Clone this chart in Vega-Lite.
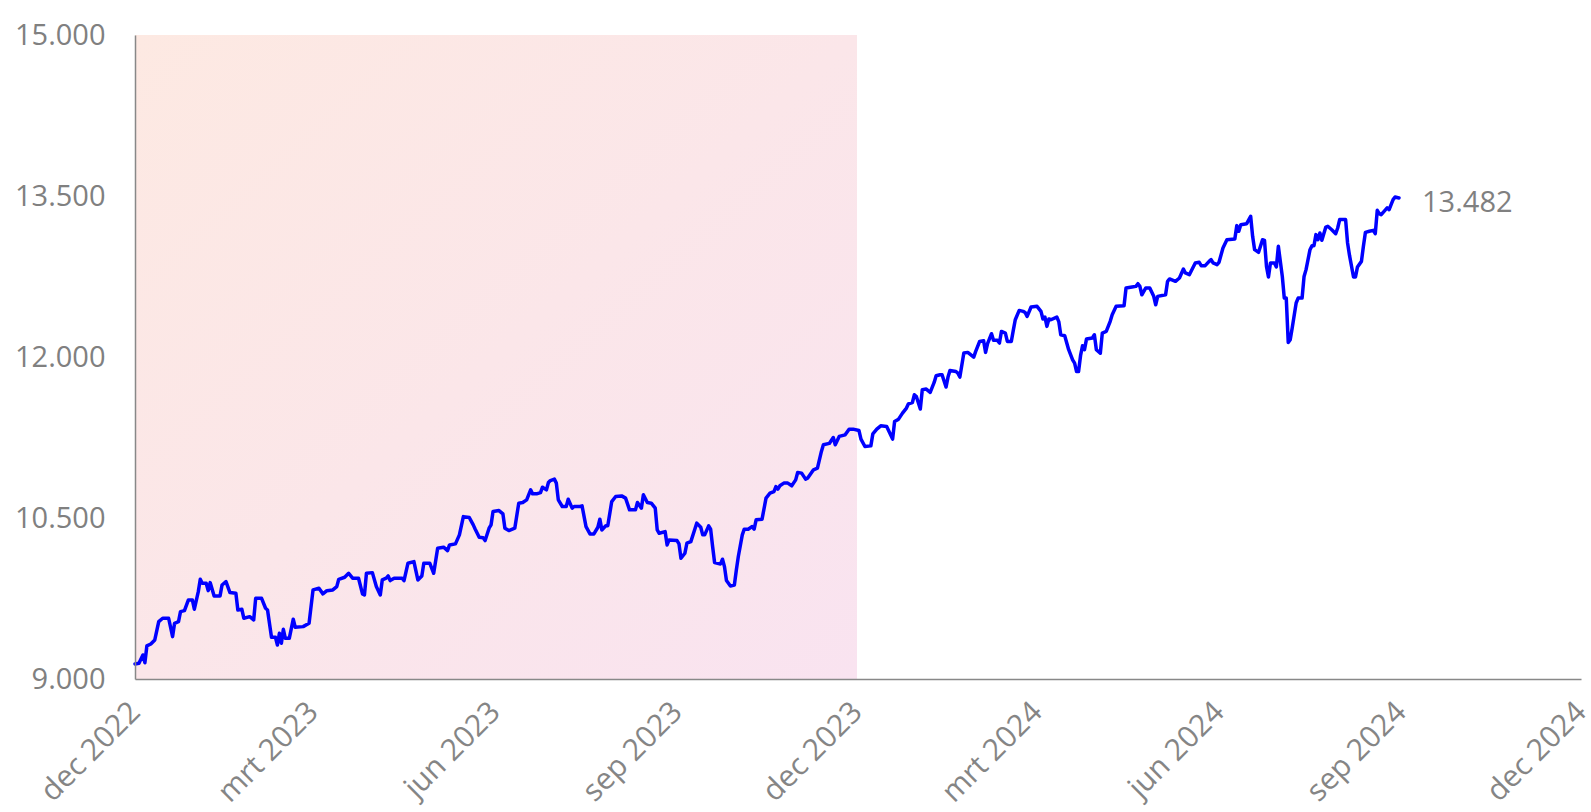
{
  "$schema": "https://vega.github.io/schema/vega-lite/v6.json",
  "width": 1446,
  "height": 644,
  "autosize": {"type": "none"},
  "padding": {"left": 135, "top": 35, "right": 10, "bottom": 133},
  "background": "white",
  "config": {
    "view": {"stroke": null},
    "font": "Open Sans",
    "locale": {
      "number": {"decimal": ",", "thousands": ".", "grouping": [3], "currency": ["€ ", ""]},
      "time": {
        "dateTime": "%a %e %B %Y %X",
        "date": "%d-%m-%Y",
        "time": "%H:%M:%S",
        "periods": ["AM", "PM"],
        "days": ["zondag", "maandag", "dinsdag", "woensdag", "donderdag", "vrijdag", "zaterdag"],
        "shortDays": ["zo", "ma", "di", "wo", "do", "vr", "za"],
        "months": ["januari", "februari", "maart", "april", "mei", "juni", "juli", "augustus", "september", "oktober", "november", "december"],
        "shortMonths": ["jan", "feb", "mrt", "apr", "mei", "jun", "jul", "aug", "sep", "okt", "nov", "dec"]
      }
    }
  },
  "datasets": {
    "periods": [{"start": "2022-12-01", "end": "2023-12-01"}],
    "series": [
      {"date": "2022-12-01", "value": 9140}, {"date": "2022-12-03", "value": 9146}, {"date": "2022-12-05", "value": 9224}, {"date": "2022-12-06", "value": 9152}, {"date": "2022-12-07", "value": 9308}, {"date": "2022-12-09", "value": 9326}, {"date": "2022-12-11", "value": 9364}, {"date": "2022-12-13", "value": 9534}, {"date": "2022-12-15", "value": 9566}, {"date": "2022-12-18", "value": 9566}, {"date": "2022-12-20", "value": 9395}, {"date": "2022-12-21", "value": 9519}, {"date": "2022-12-23", "value": 9534}, {"date": "2022-12-24", "value": 9628}, {"date": "2022-12-26", "value": 9637}, {"date": "2022-12-28", "value": 9737}, {"date": "2022-12-30", "value": 9737}, {"date": "2022-12-31", "value": 9650},
      {"date": "2023-01-02", "value": 9814}, {"date": "2023-01-03", "value": 9929}, {"date": "2023-01-04", "value": 9892}, {"date": "2023-01-06", "value": 9892}, {"date": "2023-01-07", "value": 9823}, {"date": "2023-01-08", "value": 9898}, {"date": "2023-01-10", "value": 9774}, {"date": "2023-01-13", "value": 9774}, {"date": "2023-01-14", "value": 9876}, {"date": "2023-01-16", "value": 9907}, {"date": "2023-01-18", "value": 9805}, {"date": "2023-01-21", "value": 9799}, {"date": "2023-01-22", "value": 9643}, {"date": "2023-01-24", "value": 9650}, {"date": "2023-01-25", "value": 9566}, {"date": "2023-01-28", "value": 9581}, {"date": "2023-01-30", "value": 9550}, {"date": "2023-01-31", "value": 9752},
      {"date": "2023-02-03", "value": 9752}, {"date": "2023-02-05", "value": 9659}, {"date": "2023-02-06", "value": 9643}, {"date": "2023-02-08", "value": 9389}, {"date": "2023-02-10", "value": 9389}, {"date": "2023-02-11", "value": 9317}, {"date": "2023-02-12", "value": 9426}, {"date": "2023-02-13", "value": 9333}, {"date": "2023-02-14", "value": 9463}, {"date": "2023-02-15", "value": 9379}, {"date": "2023-02-17", "value": 9379}, {"date": "2023-02-19", "value": 9557}, {"date": "2023-02-20", "value": 9482}, {"date": "2023-02-24", "value": 9488}, {"date": "2023-02-27", "value": 9519},
      {"date": "2023-03-01", "value": 9830}, {"date": "2023-03-04", "value": 9845}, {"date": "2023-03-06", "value": 9793}, {"date": "2023-03-08", "value": 9823}, {"date": "2023-03-11", "value": 9830}, {"date": "2023-03-13", "value": 9861}, {"date": "2023-03-14", "value": 9929}, {"date": "2023-03-17", "value": 9948}, {"date": "2023-03-19", "value": 9985}, {"date": "2023-03-21", "value": 9939}, {"date": "2023-03-24", "value": 9939}, {"date": "2023-03-26", "value": 9793}, {"date": "2023-03-27", "value": 9783}, {"date": "2023-03-28", "value": 9985}, {"date": "2023-03-31", "value": 9991},
      {"date": "2023-04-02", "value": 9861}, {"date": "2023-04-04", "value": 9783}, {"date": "2023-04-05", "value": 9923}, {"date": "2023-04-07", "value": 9939}, {"date": "2023-04-08", "value": 9960}, {"date": "2023-04-09", "value": 9917}, {"date": "2023-04-11", "value": 9939}, {"date": "2023-04-15", "value": 9939}, {"date": "2023-04-16", "value": 9917}, {"date": "2023-04-18", "value": 10079}, {"date": "2023-04-21", "value": 10094}, {"date": "2023-04-23", "value": 9923}, {"date": "2023-04-25", "value": 9960}, {"date": "2023-04-26", "value": 10079}, {"date": "2023-04-29", "value": 10079},
      {"date": "2023-05-01", "value": 9985}, {"date": "2023-05-03", "value": 10218}, {"date": "2023-05-06", "value": 10228}, {"date": "2023-05-08", "value": 10196}, {"date": "2023-05-09", "value": 10249}, {"date": "2023-05-12", "value": 10259}, {"date": "2023-05-14", "value": 10343}, {"date": "2023-05-16", "value": 10513}, {"date": "2023-05-19", "value": 10504}, {"date": "2023-05-21", "value": 10436}, {"date": "2023-05-22", "value": 10396}, {"date": "2023-05-24", "value": 10321}, {"date": "2023-05-26", "value": 10317}, {"date": "2023-05-27", "value": 10290}, {"date": "2023-05-29", "value": 10405}, {"date": "2023-05-30", "value": 10436}, {"date": "2023-05-31", "value": 10560},
      {"date": "2023-06-03", "value": 10569}, {"date": "2023-06-05", "value": 10538}, {"date": "2023-06-06", "value": 10405}, {"date": "2023-06-08", "value": 10383}, {"date": "2023-06-11", "value": 10405}, {"date": "2023-06-13", "value": 10638}, {"date": "2023-06-15", "value": 10644}, {"date": "2023-06-17", "value": 10669}, {"date": "2023-06-19", "value": 10762}, {"date": "2023-06-20", "value": 10725}, {"date": "2023-06-22", "value": 10725}, {"date": "2023-06-24", "value": 10737}, {"date": "2023-06-25", "value": 10787}, {"date": "2023-06-27", "value": 10762}, {"date": "2023-06-28", "value": 10830}, {"date": "2023-06-29", "value": 10849},
      {"date": "2023-07-01", "value": 10862}, {"date": "2023-07-02", "value": 10825}, {"date": "2023-07-03", "value": 10669}, {"date": "2023-07-05", "value": 10607}, {"date": "2023-07-07", "value": 10607}, {"date": "2023-07-08", "value": 10675}, {"date": "2023-07-10", "value": 10592}, {"date": "2023-07-11", "value": 10607}, {"date": "2023-07-14", "value": 10607}, {"date": "2023-07-15", "value": 10613}, {"date": "2023-07-17", "value": 10420}, {"date": "2023-07-19", "value": 10352}, {"date": "2023-07-21", "value": 10352}, {"date": "2023-07-23", "value": 10414}, {"date": "2023-07-24", "value": 10489}, {"date": "2023-07-25", "value": 10389}, {"date": "2023-07-27", "value": 10427}, {"date": "2023-07-28", "value": 10427}, {"date": "2023-07-30", "value": 10653},
      {"date": "2023-08-01", "value": 10700}, {"date": "2023-08-04", "value": 10706}, {"date": "2023-08-06", "value": 10685}, {"date": "2023-08-08", "value": 10576}, {"date": "2023-08-11", "value": 10576}, {"date": "2023-08-12", "value": 10644}, {"date": "2023-08-14", "value": 10592}, {"date": "2023-08-15", "value": 10716}, {"date": "2023-08-17", "value": 10644}, {"date": "2023-08-19", "value": 10638}, {"date": "2023-08-21", "value": 10592}, {"date": "2023-08-22", "value": 10389}, {"date": "2023-08-23", "value": 10358}, {"date": "2023-08-26", "value": 10373}, {"date": "2023-08-27", "value": 10249}, {"date": "2023-08-28", "value": 10296},
      {"date": "2023-09-01", "value": 10290}, {"date": "2023-09-02", "value": 10259}, {"date": "2023-09-03", "value": 10125}, {"date": "2023-09-05", "value": 10172}, {"date": "2023-09-06", "value": 10265}, {"date": "2023-09-08", "value": 10280}, {"date": "2023-09-10", "value": 10396}, {"date": "2023-09-11", "value": 10452}, {"date": "2023-09-13", "value": 10414}, {"date": "2023-09-14", "value": 10343}, {"date": "2023-09-15", "value": 10343}, {"date": "2023-09-17", "value": 10427}, {"date": "2023-09-18", "value": 10396}, {"date": "2023-09-19", "value": 10234}, {"date": "2023-09-20", "value": 10085}, {"date": "2023-09-23", "value": 10072}, {"date": "2023-09-24", "value": 10116}, {"date": "2023-09-25", "value": 10047}, {"date": "2023-09-26", "value": 9917}, {"date": "2023-09-28", "value": 9867}, {"date": "2023-09-30", "value": 9876},
      {"date": "2023-10-01", "value": 10016}, {"date": "2023-10-02", "value": 10141}, {"date": "2023-10-04", "value": 10343}, {"date": "2023-10-05", "value": 10396}, {"date": "2023-10-07", "value": 10396}, {"date": "2023-10-09", "value": 10420}, {"date": "2023-10-10", "value": 10396}, {"date": "2023-10-11", "value": 10483}, {"date": "2023-10-14", "value": 10489}, {"date": "2023-10-16", "value": 10685}, {"date": "2023-10-18", "value": 10731}, {"date": "2023-10-20", "value": 10746}, {"date": "2023-10-21", "value": 10793}, {"date": "2023-10-22", "value": 10769}, {"date": "2023-10-23", "value": 10800}, {"date": "2023-10-25", "value": 10825}, {"date": "2023-10-27", "value": 10825}, {"date": "2023-10-29", "value": 10800}, {"date": "2023-10-31", "value": 10855},
      {"date": "2023-11-01", "value": 10924}, {"date": "2023-11-03", "value": 10918}, {"date": "2023-11-05", "value": 10862}, {"date": "2023-11-06", "value": 10871}, {"date": "2023-11-09", "value": 10949}, {"date": "2023-11-11", "value": 10964}, {"date": "2023-11-13", "value": 11120}, {"date": "2023-11-14", "value": 11182}, {"date": "2023-11-17", "value": 11195}, {"date": "2023-11-19", "value": 11250}, {"date": "2023-11-20", "value": 11182}, {"date": "2023-11-22", "value": 11260}, {"date": "2023-11-25", "value": 11275}, {"date": "2023-11-27", "value": 11328}, {"date": "2023-11-29", "value": 11328},
      {"date": "2023-12-02", "value": 11315}, {"date": "2023-12-03", "value": 11235}, {"date": "2023-12-05", "value": 11166}, {"date": "2023-12-08", "value": 11172}, {"date": "2023-12-09", "value": 11284}, {"date": "2023-12-11", "value": 11328}, {"date": "2023-12-13", "value": 11359}, {"date": "2023-12-16", "value": 11353}, {"date": "2023-12-19", "value": 11235}, {"date": "2023-12-20", "value": 11399}, {"date": "2023-12-22", "value": 11421}, {"date": "2023-12-24", "value": 11477}, {"date": "2023-12-26", "value": 11524}, {"date": "2023-12-27", "value": 11564}, {"date": "2023-12-29", "value": 11576}, {"date": "2023-12-30", "value": 11648}, {"date": "2023-12-31", "value": 11632},
      {"date": "2024-01-02", "value": 11515}, {"date": "2024-01-03", "value": 11695}, {"date": "2024-01-05", "value": 11701}, {"date": "2024-01-07", "value": 11670}, {"date": "2024-01-09", "value": 11763}, {"date": "2024-01-10", "value": 11825}, {"date": "2024-01-12", "value": 11835}, {"date": "2024-01-13", "value": 11835}, {"date": "2024-01-15", "value": 11720}, {"date": "2024-01-16", "value": 11813}, {"date": "2024-01-17", "value": 11875}, {"date": "2024-01-20", "value": 11865}, {"date": "2024-01-21", "value": 11850}, {"date": "2024-01-22", "value": 11813}, {"date": "2024-01-24", "value": 12037}, {"date": "2024-01-26", "value": 12043}, {"date": "2024-01-29", "value": 11999}, {"date": "2024-01-30", "value": 12052},
      {"date": "2024-02-01", "value": 12145}, {"date": "2024-02-03", "value": 12152}, {"date": "2024-02-04", "value": 12043}, {"date": "2024-02-05", "value": 12124}, {"date": "2024-02-07", "value": 12217}, {"date": "2024-02-08", "value": 12155}, {"date": "2024-02-10", "value": 12155}, {"date": "2024-02-11", "value": 12130}, {"date": "2024-02-12", "value": 12238}, {"date": "2024-02-14", "value": 12223}, {"date": "2024-02-15", "value": 12145}, {"date": "2024-02-17", "value": 12145}, {"date": "2024-02-18", "value": 12248}, {"date": "2024-02-19", "value": 12347}, {"date": "2024-02-21", "value": 12434}, {"date": "2024-02-23", "value": 12425}, {"date": "2024-02-24", "value": 12415}, {"date": "2024-02-25", "value": 12378}, {"date": "2024-02-27", "value": 12466},
      {"date": "2024-03-01", "value": 12472}, {"date": "2024-03-03", "value": 12425}, {"date": "2024-03-04", "value": 12354}, {"date": "2024-03-05", "value": 12372}, {"date": "2024-03-06", "value": 12285}, {"date": "2024-03-07", "value": 12354}, {"date": "2024-03-08", "value": 12347}, {"date": "2024-03-11", "value": 12372}, {"date": "2024-03-12", "value": 12330}, {"date": "2024-03-13", "value": 12207}, {"date": "2024-03-15", "value": 12198}, {"date": "2024-03-17", "value": 12068}, {"date": "2024-03-19", "value": 11974}, {"date": "2024-03-20", "value": 11943}, {"date": "2024-03-21", "value": 11865}, {"date": "2024-03-22", "value": 11865}, {"date": "2024-03-23", "value": 12012}, {"date": "2024-03-24", "value": 12105}, {"date": "2024-03-25", "value": 12068}, {"date": "2024-03-26", "value": 12167}, {"date": "2024-03-29", "value": 12177}, {"date": "2024-03-30", "value": 12207}, {"date": "2024-03-31", "value": 12068},
      {"date": "2024-04-02", "value": 12035}, {"date": "2024-04-03", "value": 12223}, {"date": "2024-04-05", "value": 12238}, {"date": "2024-04-07", "value": 12332}, {"date": "2024-04-08", "value": 12394}, {"date": "2024-04-10", "value": 12472}, {"date": "2024-04-14", "value": 12478}, {"date": "2024-04-15", "value": 12643}, {"date": "2024-04-18", "value": 12652}, {"date": "2024-04-20", "value": 12658}, {"date": "2024-04-21", "value": 12683}, {"date": "2024-04-22", "value": 12658}, {"date": "2024-04-23", "value": 12580}, {"date": "2024-04-25", "value": 12643}, {"date": "2024-04-27", "value": 12643}, {"date": "2024-04-29", "value": 12565}, {"date": "2024-04-30", "value": 12487},
      {"date": "2024-05-01", "value": 12565}, {"date": "2024-05-05", "value": 12580}, {"date": "2024-05-06", "value": 12705}, {"date": "2024-05-07", "value": 12727}, {"date": "2024-05-10", "value": 12705}, {"date": "2024-05-12", "value": 12736}, {"date": "2024-05-14", "value": 12820}, {"date": "2024-05-15", "value": 12783}, {"date": "2024-05-17", "value": 12767}, {"date": "2024-05-20", "value": 12876}, {"date": "2024-05-22", "value": 12882}, {"date": "2024-05-23", "value": 12851}, {"date": "2024-05-25", "value": 12851}, {"date": "2024-05-27", "value": 12891}, {"date": "2024-05-28", "value": 12907}, {"date": "2024-05-29", "value": 12876}, {"date": "2024-05-31", "value": 12860},
      {"date": "2024-06-01", "value": 12882}, {"date": "2024-06-03", "value": 13016}, {"date": "2024-06-05", "value": 13093}, {"date": "2024-06-09", "value": 13100}, {"date": "2024-06-10", "value": 13224}, {"date": "2024-06-11", "value": 13171}, {"date": "2024-06-12", "value": 13233}, {"date": "2024-06-15", "value": 13242}, {"date": "2024-06-17", "value": 13311}, {"date": "2024-06-18", "value": 13124}, {"date": "2024-06-19", "value": 13000}, {"date": "2024-06-21", "value": 12975}, {"date": "2024-06-23", "value": 13093}, {"date": "2024-06-24", "value": 13087}, {"date": "2024-06-25", "value": 12844}, {"date": "2024-06-26", "value": 12745}, {"date": "2024-06-27", "value": 12876}, {"date": "2024-06-29", "value": 12876}, {"date": "2024-06-30", "value": 12839},
      {"date": "2024-07-01", "value": 13031}, {"date": "2024-07-03", "value": 12751}, {"date": "2024-07-04", "value": 12549}, {"date": "2024-07-05", "value": 12549}, {"date": "2024-07-06", "value": 12136}, {"date": "2024-07-07", "value": 12161}, {"date": "2024-07-08", "value": 12270}, {"date": "2024-07-10", "value": 12503}, {"date": "2024-07-11", "value": 12549}, {"date": "2024-07-13", "value": 12549}, {"date": "2024-07-14", "value": 12751}, {"date": "2024-07-15", "value": 12814}, {"date": "2024-07-17", "value": 13000}, {"date": "2024-07-18", "value": 13037}, {"date": "2024-07-19", "value": 13037}, {"date": "2024-07-20", "value": 13140}, {"date": "2024-07-21", "value": 13093}, {"date": "2024-07-22", "value": 13155}, {"date": "2024-07-23", "value": 13087}, {"date": "2024-07-25", "value": 13211}, {"date": "2024-07-26", "value": 13218}, {"date": "2024-07-28", "value": 13186}, {"date": "2024-07-30", "value": 13149}, {"date": "2024-07-31", "value": 13202},
      {"date": "2024-08-01", "value": 13280}, {"date": "2024-08-04", "value": 13280}, {"date": "2024-08-05", "value": 13062}, {"date": "2024-08-06", "value": 12944}, {"date": "2024-08-08", "value": 12745}, {"date": "2024-08-09", "value": 12745}, {"date": "2024-08-10", "value": 12839}, {"date": "2024-08-12", "value": 12891}, {"date": "2024-08-13", "value": 13031}, {"date": "2024-08-14", "value": 13161}, {"date": "2024-08-16", "value": 13171}, {"date": "2024-08-18", "value": 13180}, {"date": "2024-08-19", "value": 13149}, {"date": "2024-08-20", "value": 13367}, {"date": "2024-08-21", "value": 13336}, {"date": "2024-08-22", "value": 13326}, {"date": "2024-08-23", "value": 13348}, {"date": "2024-08-25", "value": 13389}, {"date": "2024-08-26", "value": 13373}, {"date": "2024-08-27", "value": 13420}, {"date": "2024-08-28", "value": 13466}, {"date": "2024-08-29", "value": 13491}, {"date": "2024-08-31", "value": 13482}
    ]
  },
  "layer": [
    {
      "data": {"name": "periods"},
      "mark": {
        "type": "rect",
        "fill": {
          "gradient": "linear", "x1": 0, "y1": 0, "x2": 1, "y2": 1,
          "stops": [{"offset": 0, "color": "#fde9e2"}, {"offset": 1, "color": "#f9e3f0"}]
        }
      },
      "encoding": {
        "x": {"field": "start", "type": "temporal"},
        "x2": {"field": "end"}
      }
    },
    {
      "data": {"name": "series"},
      "mark": {"type": "line", "color": "#0000ff", "strokeWidth": 3.5, "strokeJoin": "round", "strokeCap": "round"},
      "encoding": {
        "x": {
          "field": "date", "type": "temporal",
          "scale": {"domain": [{"year": 2022, "month": 12, "date": 1}, {"year": 2024, "month": 12, "date": 1}], "nice": false},
          "axis": {
            "title": null, "format": "%b %Y",
            "values": [
              {"year": 2022, "month": 12, "date": 1}, {"year": 2023, "month": 3, "date": 1}, {"year": 2023, "month": 6, "date": 1},
              {"year": 2023, "month": 9, "date": 1}, {"year": 2023, "month": 12, "date": 1}, {"year": 2024, "month": 3, "date": 1},
              {"year": 2024, "month": 6, "date": 1}, {"year": 2024, "month": 9, "date": 1}, {"year": 2024, "month": 12, "date": 1}
            ],
            "labelAngle": -45, "labelAlign": "right", "labelBaseline": "middle",
            "labelFontSize": 30, "labelColor": "#858585", "labelPadding": 28,
            "labelFlush": false, "labelOverlap": false, "labelBound": false,
            "ticks": false, "grid": false, "domainColor": "#888888", "domainWidth": 1.5, "zindex": 1
          }
        },
        "y": {
          "field": "value", "type": "quantitative",
          "scale": {"domain": [9000, 15000], "nice": false, "zero": false},
          "axis": {
            "title": null, "format": ",.0f", "values": [9000, 10500, 12000, 13500, 15000],
            "labelFontSize": 29, "labelColor": "#808080", "labelPadding": 30,
            "ticks": false, "grid": false, "domainColor": "#888888", "domainWidth": 1.5, "zindex": 1,
            "labelOverlap": false, "labelBound": false, "labelFlush": false
          }
        }
      }
    },
    {
      "data": {"name": "series"},
      "transform": [
        {"window": [{"op": "row_number", "as": "rank"}], "sort": [{"field": "date", "order": "descending"}]},
        {"filter": "datum.rank == 1"}
      ],
      "mark": {"type": "text", "align": "left", "baseline": "middle", "dx": 23, "dy": 5, "fontSize": 29, "color": "#808080"},
      "encoding": {
        "x": {"field": "date", "type": "temporal"},
        "y": {"field": "value", "type": "quantitative"},
        "text": {"field": "value", "type": "quantitative", "format": ",.0f"}
      }
    }
  ]
}
